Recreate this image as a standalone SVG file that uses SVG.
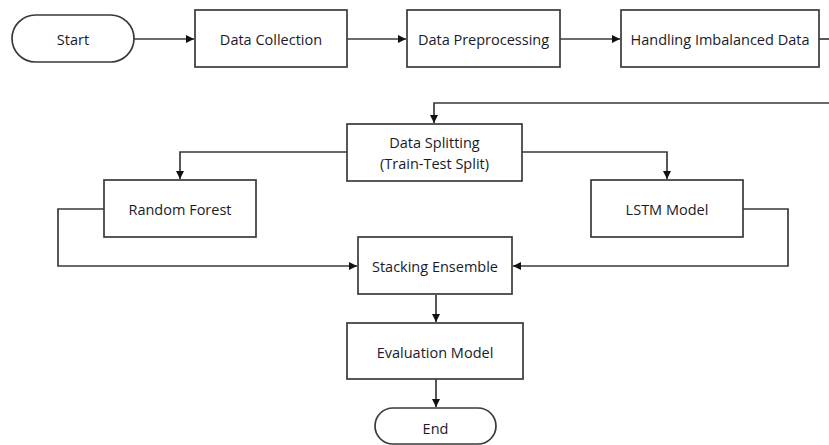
<svg xmlns="http://www.w3.org/2000/svg" width="829" height="445" viewBox="0 0 829 445">
<defs>
<style>
.box{fill:#fff;stroke:#3a3a3a;stroke-width:1.7}
.t{font-family:"Open Sans","Liberation Sans",sans-serif;font-size:14.5px;fill:#1a1a2a;text-anchor:middle;dominant-baseline:central}
.c{fill:none;stroke:#3a3a3a;stroke-width:1.7}
</style>
<marker id="a" viewBox="0 0 10 10" refX="10" refY="5" markerWidth="8" markerHeight="8" markerUnits="userSpaceOnUse" orient="auto"><path d="M0,0 L10,5 L0,10 z" fill="#111"/></marker>
</defs>
<rect width="829" height="445" fill="#fff"/>
<g id="connectors">
<path class="c" d="M134,39 H194" marker-end="url(#a)"/>
<path class="c" d="M347,39 H406" marker-end="url(#a)"/>
<path class="c" d="M560,39 H620" marker-end="url(#a)"/>
<path class="c" d="M819,39 H830"/>
<path class="c" d="M830,103 H434 V123" marker-end="url(#a)"/>
<path class="c" d="M347,152 H180 V179" marker-end="url(#a)"/>
<path class="c" d="M522,152 H667 V179" marker-end="url(#a)"/>
<path class="c" d="M104,209 H58 V266 H357" marker-end="url(#a)"/>
<path class="c" d="M743,209 H788 V266 H513" marker-end="url(#a)"/>
<path class="c" d="M436,295 V322" marker-end="url(#a)"/>
<path class="c" d="M436,379 V407" marker-end="url(#a)"/>
</g>
<g id="start"><rect class="box" x="12" y="15" width="122" height="47" rx="23.5"/><text class="t" x="73" y="39">Start</text></g>
<g id="collection"><rect class="box" x="195" y="10" width="152" height="57"/><text class="t" x="271" y="39">Data Collection</text></g>
<g id="preprocessing"><rect class="box" x="407" y="10" width="153" height="57"/><text class="t" x="483.5" y="39">Data Preprocessing</text></g>
<g id="imbalanced"><rect class="box" x="621" y="10" width="198" height="57"/><text class="t" x="720" y="39">Handling Imbalanced Data</text></g>
<g id="splitting"><rect class="box" x="347" y="124" width="175" height="57"/><text class="t" x="434.5" y="142">Data Splitting</text><text class="t" x="434.5" y="163">(Train-Test Split)</text></g>
<g id="rf"><rect class="box" x="104" y="180" width="152" height="57"/><text class="t" x="180" y="209">Random Forest</text></g>
<g id="lstm"><rect class="box" x="591" y="180" width="152" height="57"/><text class="t" x="667" y="209">LSTM Model</text></g>
<g id="stacking"><rect class="box" x="358" y="237" width="154" height="57"/><text class="t" x="435" y="266">Stacking Ensemble</text></g>
<g id="evaluation"><rect class="box" x="347" y="323" width="176" height="56"/><text class="t" x="435" y="352">Evaluation Model</text></g>
<g id="end"><rect class="box" x="375" y="408" width="121" height="36" rx="18"/><text class="t" x="435.5" y="428">End</text></g>
</svg>
